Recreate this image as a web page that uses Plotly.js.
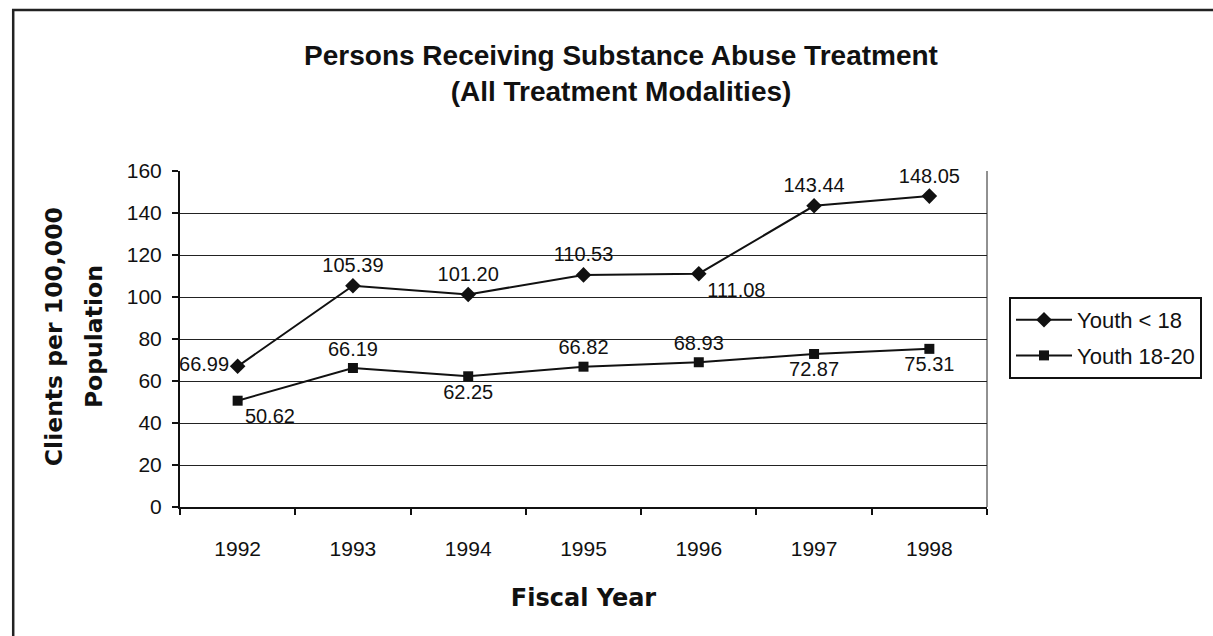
<!DOCTYPE html>
<html>
<head>
<meta charset="utf-8">
<script src="https://cdn.plot.ly/plotly-3.0.1.min.js"></script>
<style>
html,body{margin:0;padding:0;background:#fff;}
#chart{width:1213px;height:636px;}
</style>
</head>
<body>
<div id="chart"></div>
<script>
const years = ["1992","1993","1994","1995","1996","1997","1998"];
const youthUnder18 = [66.99, 105.39, 101.20, 110.53, 111.08, 143.44, 148.05];
const youth18to20 = [50.62, 66.19, 62.25, 66.82, 68.93, 72.87, 75.31];
const labelsUnder18 = ["66.99","105.39","101.20","110.53","111.08","143.44","148.05"];
const labels18to20 = ["50.62","66.19","62.25","66.82","68.93","72.87","75.31"];
const yTicks = [0,20,40,60,80,100,120,140,160];
const yTitleLines = ["Clients per 100,000", "Population"];

const FONT = "Arial, 'Liberation Sans', sans-serif";
const WIDE = "'DejaVu Sans', Verdana, sans-serif";

const traces = [
  {
    x: years, y: youthUnder18, name: "Youth < 18", legendgroup: "a",
    type: "scatter", mode: "lines+markers+text",
    line: {color: "#111", width: 2},
    marker: {symbol: "diamond", size: 12, color: "#111"},
    text: labelsUnder18,
    textposition: ["middle left","top center","top center","top center","bottom right","top center","top center"],
    textfont: {family: FONT, size: 20, color: "#111"},
    cliponaxis: false
  },
  {
    x: years, y: youth18to20, name: "Youth 18-20", legendgroup: "b",
    type: "scatter", mode: "lines+markers+text",
    line: {color: "#111", width: 2},
    marker: {symbol: "square", size: 10, color: "#111"},
    text: labels18to20,
    textposition: ["bottom right","top center","bottom center","top center","top center","bottom center","bottom center"],
    textfont: {family: FONT, size: 20, color: "#111"},
    cliponaxis: false
  }
];

const L = 180, R = 988, T = 171, B = 507, W = 1213, H = 636;
const pw = R - L, ph = B - T;
function px(x){ return (x - L) / pw; }
function py(y){ return (B - y) / ph; }

const layout = {
  width: W, height: H,
  margin: {l: L, r: W - R, t: T, b: H - B, pad: 0},
  paper_bgcolor: "#fff", plot_bgcolor: "#fff",
  font: {family: FONT, color: "#111", size: 20},
  title: {
    text: "<b>Persons Receiving Substance Abuse Treatment<br>(All Treatment Modalities)</b>",
    font: {family: FONT, size: 28, color: "#111"},
    x: 621 / W, xanchor: "center", xref: "container",
    y: 1 - 65 / H, yanchor: "middle", yref: "container"
  },
  xaxis: {
    type: "category",
    range: [-0.5, 6.5],
    showgrid: false,
    showline: true, linecolor: "#111", linewidth: 2,
    ticks: "outside", tickson: "boundaries", ticklen: 6, tickcolor: "#111", tickwidth: 2,
    ticklabelstandoff: 22,
    tickfont: {family: FONT, size: 21, color: "#111"},
    title: {text: "<b>Fiscal Year</b>", font: {family: WIDE, size: 24, color: "#111"}, standoff: 30},
    fixedrange: true, zeroline: false
  },
  yaxis: {
    range: [0, 160],
    tickvals: yTicks,
    showgrid: true, gridcolor: "#222", gridwidth: 1,
    showline: true, linecolor: "#111", linewidth: 2,
    ticks: "outside", ticklen: 6, tickcolor: "#111", tickwidth: 2,
    ticklabelstandoff: 6,
    tickfont: {family: FONT, size: 21, color: "#111"},
    zeroline: false, fixedrange: true
  },
  legend: {
    x: px(1009), y: py(297), xanchor: "left", yanchor: "top",
    bgcolor: "#fff", bordercolor: "#111", borderwidth: 2,
    font: {family: FONT, size: 22, color: "#111"},
    itemwidth: 56,
    tracegroupgap: 4
  },
  showlegend: true,
  annotations: [
    {text: "<b>" + yTitleLines[0] + "</b>", xref: "paper", yref: "paper", x: px(54), y: py(337),
     xanchor: "center", yanchor: "middle", textangle: -90, showarrow: false,
     font: {family: WIDE, size: 23.5, color: "#111"}},
    {text: "<b>" + yTitleLines[1] + "</b>", xref: "paper", yref: "paper", x: px(94), y: py(337),
     xanchor: "center", yanchor: "middle", textangle: -90, showarrow: false,
     font: {family: WIDE, size: 23.5, color: "#111"}}
  ],
  shapes: [
    {type: "line", xref: "paper", yref: "paper", x0: 1, x1: 1, y0: 0, y1: 1, line: {color: "#222", width: 1}},
    {type: "rect", xref: "paper", yref: "paper", x0: px(13), x1: px(1216), y0: py(640), y1: py(10), line: {color: "#222", width: 2.5}, layer: "below"}
  ]
};

Plotly.newPlot("chart", traces, layout, {displayModeBar: false, staticPlot: true});
</script>
</body>
</html>
